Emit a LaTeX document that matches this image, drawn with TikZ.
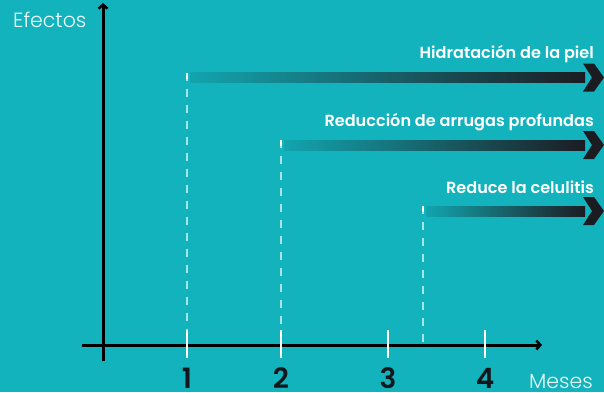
\documentclass[tikz,border=0pt]{standalone}
\usepackage{fontspec}
\setmainfont{Poppins}[BoldFont={* SemiBold}]
\newfontfamily\lightf{Poppins}[UprightFont=* Light]
\usetikzlibrary{arrows.meta}
\definecolor{bg}{HTML}{13B3BE}
\definecolor{darkbar}{HTML}{1B1C22}
\definecolor{dashc}{HTML}{A9E4EA}
\definecolor{digit}{HTML}{12171B}
\begin{document}
\begin{tikzpicture}[x=1pt,y=-1pt,
  axis/.style={line width=3pt,draw=black},
  tickw/.style={line width=2.2pt,draw=white},
  dashw/.style={line width=2pt,draw=dashc,dash pattern=on 8pt off 8pt},
  efbar/.style={left color=bg!92!black,right color=darkbar,middle color=bg!45!darkbar,draw=none},
  chev/.style={fill=darkbar,draw=none},
  lbl/.style={anchor=base east,text=white,font=\bfseries\fontsize{16.1}{18}\selectfont,inner sep=0pt},
  dig/.style={anchor=base,text=digit,font=\bfseries\fontsize{28}{30}\selectfont,inner sep=0pt},
  axl/.style={anchor=base west,text=white!92!bg,font=\lightf\fontsize{20.5}{23}\selectfont,inner sep=0pt}
]
\fill[bg] (0,0) rectangle (604,392);
\useasboundingbox (0,0) rectangle (604,392);
% axes
\coordinate (yb) at (103,361);
\coordinate (yt) at (103,3);
\coordinate (xl) at (82,345);
\coordinate (xr) at (542,345);
\draw[axis,-{Straight Barb[length=4pt,width=9pt,line width=2.5pt]}] (yb) -- (yt);
\draw[axis,-{Straight Barb[length=4pt,width=9pt,line width=2.5pt]}] (xl) -- (xr);
% ticks
\foreach \n/\x in {1/187,2/281,3/388,4/485}{
  \coordinate (t\n a) at (\x,330);
  \coordinate (t\n b) at (\x,358);
  \draw[tickw] (t\n a) -- (t\n b);
  \node[dig] (d\n) at (\x,388) {\n};
}
% dashed guides
\coordinate (g1t) at (187,73); \coordinate (g1b) at (187,330);
\coordinate (g2t) at (281,140); \coordinate (g2b) at (281,330);
\coordinate (g3t) at (423,206); \coordinate (g3b) at (423,345);
\foreach \g in {1,2,3}{
  \draw[dashw] (g\g t) -- (g\g b);
}
\draw[line width=2pt,white] (187,72.5) -- (187,79);
\draw[line width=2pt,white] (281,140) -- (281,146);
\draw[line width=2pt,white] (423,206) -- (423,212);
% effect bars
\foreach \y/\x in {77.5/190,145/284,211/426}{
  \shade[efbar] (\x,\y-5) rectangle (585,\y+5);
  \fill[chev] (583,\y-14) -- (594,\y-14) -- (604,\y) -- (594,\y+14) -- (583,\y+14) -- (592,\y) -- cycle;
}
% labels
\node[lbl] (l1) at (594,58) {Hidratación de la piel};
\node[lbl] (l2) at (594,126) {Reducción de arrugas profundas};
\node[lbl] (l3) at (594,193) {Reduce la celulitis};
\node[axl] (ef) at (13,27) {Efectos};
\node[axl] (me) at (529,388) {Meses};
\end{tikzpicture}
\end{document}
